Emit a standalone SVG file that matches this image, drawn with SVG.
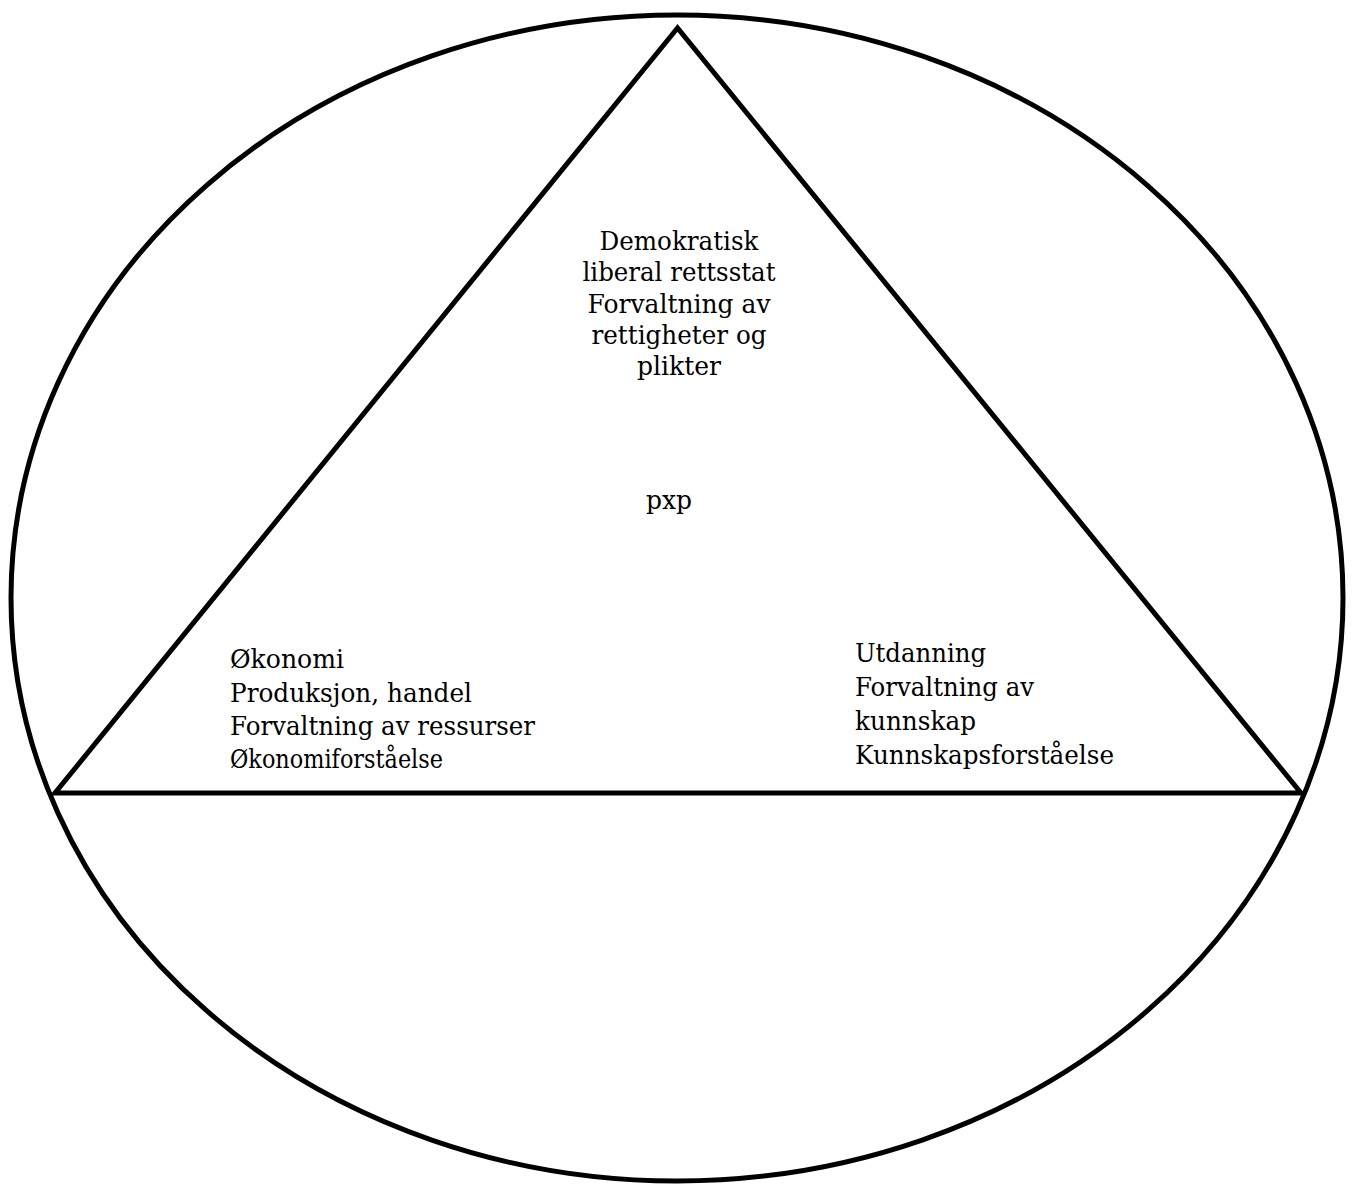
<svg xmlns="http://www.w3.org/2000/svg" width="1354" height="1184" viewBox="0 0 1354 1184">
<style>
.shape{fill:none;stroke:#000;stroke-width:5;stroke-linejoin:miter}
.lbl{font-family:"DejaVu Serif","Liberation Serif",serif;font-size:26.5px;fill:#000}
</style>
<rect width="1354" height="1184" fill="#fff"/>
<g id="ellipse"><ellipse class="shape" cx="677" cy="598" rx="666" ry="583"/></g>
<g id="triangle"><polygon class="shape" points="677.5,28 55,793 1301,793"/></g>
<g id="top-label">
<text class="lbl" x="599.5" y="250" textLength="159" lengthAdjust="spacingAndGlyphs">Demokratisk</text>
<text class="lbl" x="582.5" y="281" textLength="193" lengthAdjust="spacingAndGlyphs">liberal rettsstat</text>
<text class="lbl" x="587.5" y="312.5" textLength="183" lengthAdjust="spacingAndGlyphs">Forvaltning av</text>
<text class="lbl" x="591.5" y="343.5" textLength="175" lengthAdjust="spacingAndGlyphs">rettigheter og</text>
<text class="lbl" x="637" y="374.5" textLength="84" lengthAdjust="spacingAndGlyphs">plikter</text>
</g>
<g id="center-label"><text class="lbl" x="646" y="509" textLength="46" lengthAdjust="spacingAndGlyphs">pxp</text></g>
<g id="left-label">
<text class="lbl" x="230" y="668" textLength="114" lengthAdjust="spacingAndGlyphs">Økonomi</text>
<text class="lbl" x="230" y="701.5" textLength="242" lengthAdjust="spacingAndGlyphs">Produksjon, handel</text>
<text class="lbl" x="230" y="735" textLength="305" lengthAdjust="spacingAndGlyphs">Forvaltning av ressurser</text>
<text class="lbl" x="230" y="768" textLength="213" lengthAdjust="spacingAndGlyphs">Økonomiforståelse</text>
</g>
<g id="right-label">
<text class="lbl" x="855" y="662" textLength="131" lengthAdjust="spacingAndGlyphs">Utdanning</text>
<text class="lbl" x="855" y="695.5" textLength="179" lengthAdjust="spacingAndGlyphs">Forvaltning av</text>
<text class="lbl" x="855" y="729.5" textLength="121" lengthAdjust="spacingAndGlyphs">kunnskap</text>
<text class="lbl" x="855" y="763.5" textLength="259" lengthAdjust="spacingAndGlyphs">Kunnskapsforståelse</text>
</g>
</svg>
